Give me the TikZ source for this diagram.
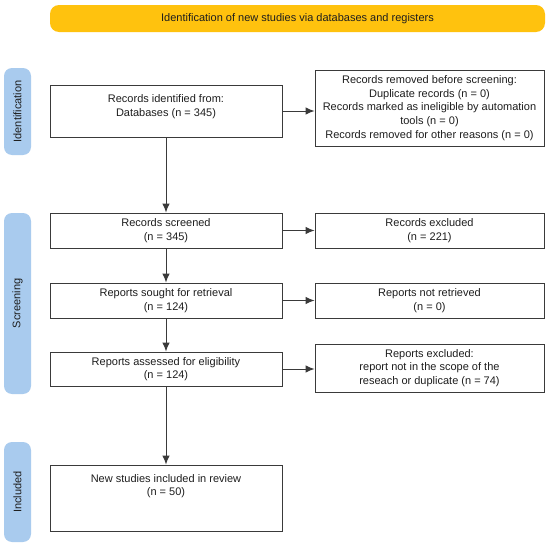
\documentclass[tikz,border=0pt]{standalone}
\usepackage{fontspec}
\setmainfont{Liberation Sans}
\usetikzlibrary{arrows.meta}
\definecolor{bannerc}{HTML}{FFC20E}
\definecolor{sidec}{HTML}{A9CBEE}
\definecolor{linec}{HTML}{3A3A3A}
\definecolor{txtc}{HTML}{1E1E1E}
\begin{document}
\begin{tikzpicture}[x=1pt,y=-1pt,
  every node/.style={font=\fontsize{11}{13.6}\selectfont, text=txtc},
  box/.style={draw=linec, line width=0.9pt, fill=white, rectangle, inner sep=1pt, align=center},
  lbox/.style={box, minimum width=232, anchor=center},
  rbox/.style={box, minimum width=229, anchor=center},
  toptext/.style={anchor=north, inner sep=0pt, align=center},
  sidelab/.style={fill=sidec, rounded corners=8pt, rotate=90, minimum height=27, inner sep=0pt, anchor=center},
  arr/.style={draw=linec, line width=1pt, -{Latex[length=9pt,width=7.5pt]}}
]
\useasboundingbox (0,0) rectangle (550,546);
\fill[white] (0,0) rectangle (550,546);

\node[fill=bannerc, rounded corners=9pt, minimum width=495, minimum height=27, inner sep=0pt] (banner) at (297.5,18.5) {Identification of new studies via databases and registers};

\node[sidelab, minimum width=87] (idlab) at (17.5,111.5) {Identification};
\node[sidelab, minimum width=181] (scrlab) at (17.5,303.5) {Screening};
\node[sidelab, minimum width=100] (inclab) at (17.5,492) {Included};

\node[lbox, minimum height=52] (id1) at (166,111) {};
\node[toptext] (id1t) at ([yshift=-10]id1.north) {Records identified from:\\Databases (n = 345)};

\node[rbox, minimum height=76] (removed) at (429.5,108) {Records removed before screening:\\Duplicate records (n = 0)\\Records marked as ineligible by automation\\tools (n = 0)\\Records removed for other reasons (n = 0)};

\node[lbox, minimum height=35] (screened) at (166,230.5) {Records screened\\(n = 345)};
\node[rbox, minimum height=35] (excluded) at (429.5,230.5) {Records excluded\\(n = 221)};

\node[lbox, minimum height=35] (sought) at (166,300.5) {Reports sought for retrieval\\(n = 124)};
\node[rbox, minimum height=35] (notretr) at (429.5,300.5) {Reports not retrieved\\(n = 0)};

\node[lbox, minimum height=34] (assessed) at (166,369) {Reports assessed for eligibility\\(n = 124)};
\node[rbox, minimum height=48] (repexcl) at (429.5,368) {Reports excluded:\\report not in the scope of the\\reseach or duplicate (n = 74)};

\node[lbox, minimum height=66] (newst) at (166,498) {};
\node[toptext] (newstt) at ([yshift=-9.5]newst.north) {New studies included in review\\(n = 50)};

\draw[arr] (id1.east) -- (id1.east -| removed.west);
\draw[arr] (screened.east) -- (excluded.west);
\draw[arr] (sought.east) -- (notretr.west);
\draw[arr] (assessed.east) -- (assessed.east -| repexcl.west);

\draw[arr] (id1.south) -- (screened.north);
\draw[arr] (screened.south) -- (sought.north);
\draw[arr] (sought.south) -- (assessed.north);
\draw[arr] (assessed.south) -- (newst.north);
\end{tikzpicture}
\end{document}
